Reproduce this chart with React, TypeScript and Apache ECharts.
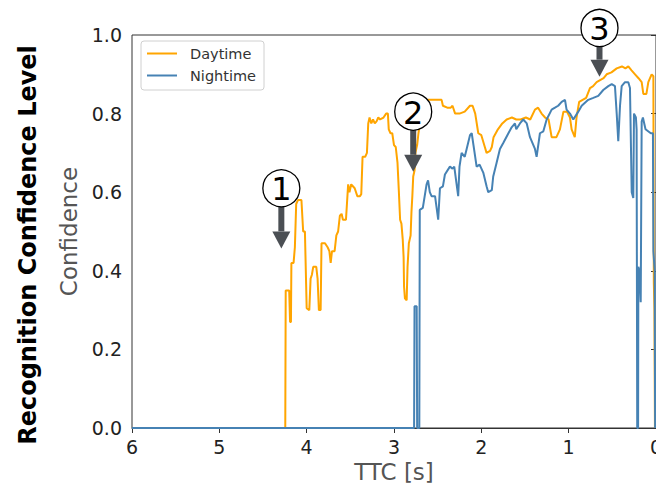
import React, { useEffect, useRef } from "react";
import * as echarts from "echarts";

// Time-to-collision [s] and confidence values
const dayTTC = [6.0, 4.245, 4.24, 4.20, 4.19, 4.18, 4.175, 4.15, 4.135, 4.12,
  4.10, 4.06, 4.04, 4.02, 4.00, 3.97, 3.955, 3.94, 3.925, 3.89,
  3.875, 3.86, 3.84, 3.83, 3.79, 3.76, 3.74, 3.725, 3.71, 3.68,
  3.66, 3.64, 3.62, 3.60, 3.585, 3.55, 3.525, 3.51, 3.49, 3.45,
  3.42, 3.39, 3.375, 3.36, 3.33, 3.31, 3.295, 3.28, 3.26, 3.24,
  3.22, 3.20, 3.18, 3.16, 3.12, 3.09, 3.07, 3.06, 3.04, 3.02,
  3.00, 2.98, 2.96, 2.945, 2.93, 2.915, 2.90, 2.89, 2.885, 2.875,
  2.855, 2.845, 2.83, 2.82, 2.81, 2.80, 2.79, 2.78, 2.765, 2.755,
  2.735, 2.72, 2.70, 2.68, 2.66, 2.63, 2.61, 2.59, 2.455, 2.44,
  2.39, 2.35, 2.33, 2.30, 2.25, 2.19, 2.13, 2.10, 2.07, 2.035,
  2.00, 1.96, 1.94, 1.90, 1.88, 1.86, 1.81, 1.76, 1.71, 1.65,
  1.60, 1.55, 1.49, 1.44, 1.386, 1.35, 1.31, 1.27, 1.23, 1.195,
  1.14, 1.10, 1.06, 1.02, 0.985, 0.966, 0.93, 0.91, 0.88, 0.84,
  0.80, 0.756, 0.72, 0.68, 0.64, 0.60, 0.565, 0.51, 0.45, 0.39,
  0.35, 0.317, 0.28, 0.24, 0.20, 0.164, 0.145, 0.11, 0.088, 0.05,
  0.03, 0.025, 0.018, 0.012];
const dayConf = [0, 0, 0.35, 0.35, 0.27, 0.27, 0.42, 0.42, 0.46, 0.57,
  0.58, 0.58, 0.50, 0.50, 0.305, 0.30, 0.38, 0.39, 0.41, 0.41,
  0.38, 0.30, 0.30, 0.47, 0.47, 0.46, 0.45, 0.42, 0.45, 0.45,
  0.49, 0.50, 0.54, 0.545, 0.53, 0.53, 0.62, 0.60, 0.62, 0.61,
  0.59, 0.59, 0.595, 0.69, 0.69, 0.70, 0.775, 0.79, 0.775, 0.785,
  0.775, 0.78, 0.79, 0.785, 0.79, 0.80, 0.80, 0.76, 0.75, 0.75,
  0.72, 0.715, 0.675, 0.605, 0.53, 0.52, 0.48, 0.435, 0.36, 0.33,
  0.325, 0.41, 0.47, 0.48, 0.49, 0.55, 0.59, 0.64, 0.655, 0.70,
  0.72, 0.75, 0.78, 0.82, 0.83, 0.83, 0.835, 0.835, 0.835, 0.82,
  0.815, 0.815, 0.82, 0.80, 0.80, 0.805, 0.82, 0.82, 0.80, 0.75,
  0.745, 0.715, 0.70, 0.705, 0.715, 0.74, 0.76, 0.775, 0.785, 0.79,
  0.785, 0.785, 0.79, 0.785, 0.81, 0.815, 0.80, 0.79, 0.785, 0.74,
  0.74, 0.76, 0.805, 0.805, 0.79, 0.76, 0.74, 0.79, 0.83, 0.835,
  0.84, 0.865, 0.87, 0.88, 0.885, 0.89, 0.90, 0.905, 0.915, 0.92,
  0.915, 0.92, 0.91, 0.90, 0.89, 0.88, 0.85, 0.85, 0.88, 0.90,
  0.895, 0.37, 0.30, 0];

const nightTTC = [6.0, 2.77, 2.765, 2.74, 2.735, 2.71, 2.705, 2.67, 2.627, 2.61,
  2.59, 2.57, 2.53, 2.494, 2.474, 2.44, 2.417, 2.36, 2.33, 2.31,
  2.265, 2.25, 2.226, 2.19, 2.168, 2.13, 2.11, 2.09, 2.054, 2.02,
  1.978, 1.94, 1.921, 1.88, 1.864, 1.825, 1.787, 1.749, 1.69, 1.653,
  1.615, 1.60, 1.558, 1.52, 1.48, 1.443, 1.386, 1.367, 1.329, 1.29,
  1.252, 1.195, 1.157, 1.12, 1.08, 1.042, 1.024, 0.985, 0.947, 0.89,
  0.851, 0.776, 0.718, 0.661, 0.604, 0.546, 0.507, 0.47, 0.45, 0.432,
  0.412, 0.393, 0.355, 0.317, 0.298, 0.278, 0.26, 0.252, 0.23, 0.222,
  0.215, 0.205, 0.202, 0.19, 0.175, 0.168, 0.164, 0.15, 0.12, 0.09,
  0.06, 0.035, 0.03, 0.015, 0.01];
const nightConf = [0, 0, 0.31, 0.31, 0, 0, 0.555, 0.56, 0.62, 0.63,
  0.60, 0.59, 0.59, 0.53, 0.61, 0.615, 0.645, 0.665, 0.66, 0.665,
  0.59, 0.665, 0.70, 0.69, 0.71, 0.745, 0.75, 0.72, 0.665, 0.67,
  0.65, 0.615, 0.60, 0.605, 0.64, 0.675, 0.71, 0.725, 0.75, 0.765,
  0.775, 0.76, 0.775, 0.785, 0.775, 0.74, 0.71, 0.69, 0.75, 0.755,
  0.785, 0.81, 0.815, 0.82, 0.83, 0.835, 0.81, 0.80, 0.785, 0.805,
  0.82, 0.835, 0.84, 0.845, 0.86, 0.87, 0.875, 0.87, 0.80, 0.73,
  0.82, 0.87, 0.88, 0.88, 0.865, 0.60, 0.585, 0.80, 0.79, 0.76,
  0, 0, 0.41, 0.40, 0.32, 0.32, 0.78, 0.79, 0.76, 0.755,
  0.75, 0.75, 0.45, 0.40, 0];

const seriesNames = ["Daytime", "Nightime"];
const xTicks = [6, 5, 4, 3, 2, 1, 0];
const yTicks = [0.0, 0.2, 0.4, 0.6, 0.8, 1.0];

// circled annotations: label, TTC, circle-centre confidence, arrow-tip confidence
const annLabels = ["1", "2", "3"];
const annTTC = [4.29, 2.78, 0.647];
const annCircleConf = [0.61, 0.805, 1.018];
const annTipConf = [0.457, 0.652, 0.894];

const FONT = "DejaVu Sans";

export default function App() {
  const ref = useRef<HTMLDivElement>(null);

  useEffect(() => {
    if (!ref.current) return;
    const chart = echarts.init(ref.current, null, { renderer: "svg" });
    const zip = (xs: number[], ys: number[]) => xs.map((x, i) => [x, ys[i]]);
    chart.setOption({
      animation: false,
      backgroundColor: "#ffffff",
      grid: {
        left: 132,
        right: 0,
        top: 35,
        bottom: 62,
        outerBoundsMode: "none",
        containLabel: false,
        show: true,
        borderColor: "#333",
        borderWidth: 1,
        backgroundColor: "transparent",
      },
      legend: {
        data: seriesNames,
        orient: "vertical",
        left: 141,
        top: 41,
        padding: [5, 8, 7, 6],
        itemGap: 7,
        itemWidth: 30,
        itemHeight: 2,
        icon: "rect",
        borderColor: "#d0d0d0",
        borderWidth: 1,
        borderRadius: 3,
        backgroundColor: "rgba(255,255,255,0.8)",
        textStyle: { fontFamily: FONT, fontSize: 14.5, color: "#333", padding: [0, 0, 0, 8] },
      },
      xAxis: {
        type: "value",
        inverse: true,
        min: xTicks[xTicks.length - 1],
        max: xTicks[0],
        interval: 1,
        name: "TTC [s]",
        nameLocation: "middle",
        nameGap: 30,
        nameTextStyle: { fontFamily: FONT, fontSize: 23, color: "#555" },
        axisLine: { show: true, lineStyle: { color: "#333", width: 1 } },
        axisTick: { show: true, length: 5, lineStyle: { color: "#333" } },
        axisLabel: { fontFamily: FONT, fontSize: 19, color: "#222", margin: 9 },
        splitLine: { show: false },
      },
      yAxis: {
        type: "value",
        min: yTicks[0],
        max: yTicks[yTicks.length - 1],
        interval: 0.2,
        name: "Confidence",
        nameLocation: "middle",
        nameGap: 51,
        nameRotate: 90,
        nameTextStyle: { fontFamily: FONT, fontSize: 23, color: "#555" },
        axisLine: { show: true, lineStyle: { color: "#333", width: 1 } },
        axisTick: { show: true, length: 5, lineStyle: { color: "#333" } },
        axisLabel: {
          fontFamily: FONT,
          fontSize: 19,
          color: "#222",
          margin: 10,
          formatter: (v: number) => v.toFixed(1),
        },
        splitLine: { show: false },
      },
      series: [
        {
          name: seriesNames[0],
          type: "line",
          data: zip(dayTTC, dayConf),
          showSymbol: false,
          symbol: "none",
          color: "#FFA500",
          lineStyle: { width: 2, color: "#FFA500" },
          z: 2,
        },
        {
          name: seriesNames[1],
          type: "line",
          data: zip(nightTTC, nightConf),
          showSymbol: false,
          symbol: "none",
          color: "#4682B4",
          lineStyle: { width: 2, color: "#4682B4" },
          z: 3,
        },
      ],
    });

    const graphics: any[] = [
      {
        type: "text",
        x: 28,
        y: 245,
        rotation: Math.PI / 2,
        style: {
          text: "Recognition Confidence Level",
          fontFamily: FONT,
          fontSize: 24,
          fontWeight: "bold",
          fill: "#000",
          textAlign: "center",
          textVerticalAlign: "middle",
        },
      },
    ];
    const R = 18.5;
    annLabels.forEach((lab, i) => {
      const c = chart.convertToPixel({ gridIndex: 0 }, [annTTC[i], annCircleConf[i]]) as number[];
      const t = chart.convertToPixel({ gridIndex: 0 }, [annTTC[i], annTipConf[i]]) as number[];
      const cx = c[0];
      const cy = c[1];
      const tipY = t[1];
      const headH = 17;
      graphics.push({
        type: "rect",
        z: 100,
        shape: { x: cx - 3, y: cy + R, width: 6, height: Math.max(0, tipY - headH - (cy + R)) },
        style: { fill: "#4b4f54" },
      });
      graphics.push({
        type: "polygon",
        z: 100,
        shape: { points: [[cx - 9, tipY - headH], [cx + 9, tipY - headH], [cx, tipY]] },
        style: { fill: "#4b4f54" },
      });
      graphics.push({
        type: "circle",
        z: 101,
        shape: { cx, cy, r: R },
        style: { fill: "#ffffff", stroke: "#000", lineWidth: 1.3 },
      });
      graphics.push({
        type: "text",
        z: 102,
        x: cx,
        y: cy + 1,
        style: {
          text: lab,
          fontFamily: FONT,
          fontSize: 32,
          fill: "#000",
          textAlign: "center",
          textVerticalAlign: "middle",
        },
      });
    });
    chart.setOption({ graphic: graphics });

    return () => chart.dispose();
  }, []);

  return (
    <div
      ref={ref}
      style={{ position: "fixed", left: 0, top: 0, width: 656, height: 490 }}
    />
  );
}
